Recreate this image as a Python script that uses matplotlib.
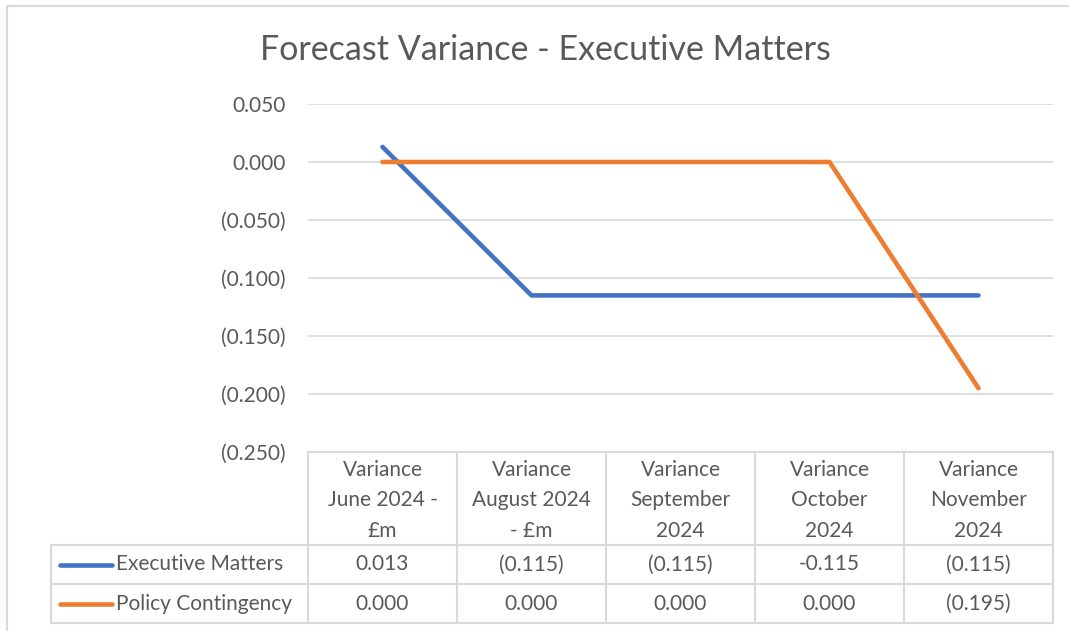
import numpy as np
import matplotlib.pyplot as plt
from matplotlib.lines import Line2D

# ================ Data ================
categories = ["Variance\nJune 2024 -\n£m", "Variance\nAugust 2024\n- £m",
              "Variance\nSeptember\n2024", "Variance\nOctober\n2024",
              "Variance\nNovember\n2024"]
series_names = ["Executive Matters", "Policy Contingency"]
executive = [0.013, -0.115, -0.115, -0.115, -0.115]
policy = [0.000, 0.000, 0.000, 0.000, -0.195]
# cell text as shown in the data table (October executive cell uses a plain format)
executive_cells = ["0.013", "(0.115)", "(0.115)", "-0.115", "(0.115)"]
policy_cells = ["0.000", "0.000", "0.000", "0.000", "(0.195)"]
y_ticks = [0.05, 0.0, -0.05, -0.10, -0.15, -0.20, -0.25]
y_tick_labels = ["0.050", "0.000", "(0.050)", "(0.100)", "(0.150)", "(0.200)", "(0.250)"]

# ================ Style ================
W, H = 1069, 631
BLUE = "#4472C4"
ORANGE = "#ED7D31"
GRID = "#D9D9D9"
TEXT = "#595959"
FONT = "Lato"
FS = 15

plt.rcParams["font.family"] = [FONT, "DejaVu Sans"]


def fx(px):
    return px / W


def fy(py):
    return 1 - py / H


fig = plt.figure(figsize=(W / 100, H / 100), dpi=100)

# plot area in pixels
left, right, top, bottom = 308, 1053, 104, 452
ax = fig.add_axes([fx(left), fy(bottom), fx(right - left), (bottom - top) / H])

x = np.arange(len(categories))
ax.plot(x, executive, color=BLUE, lw=3.3, solid_capstyle="round", zorder=3)
ax.plot(x, policy, color=ORANGE, lw=3.3, solid_capstyle="round", zorder=3)

ax.set_xlim(-0.5, len(categories) - 0.5)
ax.set_ylim(-0.25, 0.05)
ax.set_yticks(y_ticks)
ax.set_yticklabels(y_tick_labels)
ax.set_xticks([])
ax.tick_params(axis="y", length=0, pad=16, labelsize=FS, labelcolor=TEXT)
for s in ax.spines.values():
    s.set_visible(False)
for yv in y_ticks[:-1]:
    ax.axhline(yv, color=GRID, lw=1.2, zorder=1)

fig.text(fx(545), fy(50), "Forecast Variance - Executive Matters", ha="center",
         va="center", fontsize=24.5, color=TEXT)

# ================ Data table ================
trans = ax.get_xaxis_transform()  # x in data, y in axes
bt = fig.transFigure
row_y = [452, 545, 584, 623]
leg_left = 51
bounds = np.arange(len(categories) + 1) - 0.5

# horizontal lines
lw_t = 1.5
ax.plot([bounds[0], bounds[-1]], [0, 0], color=GRID, lw=lw_t, transform=trans,
        clip_on=False)
for ry in row_y[1:]:
    fig.add_artist(Line2D([fx(leg_left), fx(right)], [fy(ry), fy(ry)],
                          color=GRID, lw=lw_t, transform=bt))
# vertical lines
for b in bounds:
    xp = ax.transData.transform((b, 0))[0] / W
    fig.add_artist(Line2D([xp, xp], [fy(row_y[0]), fy(row_y[-1])],
                          color=GRID, lw=lw_t, transform=bt))
fig.add_artist(Line2D([fx(leg_left), fx(leg_left)], [fy(row_y[1]), fy(row_y[-1])],
                      color=GRID, lw=lw_t, transform=bt))

for i, cat in enumerate(categories):
    xp = ax.transData.transform((x[i], 0))[0] / W
    fig.text(xp, fy((row_y[0] + row_y[1]) / 2 + 2), cat, ha="center", va="center",
             fontsize=FS, color=TEXT, linespacing=1.65)
    fig.text(xp, fy((row_y[1] + row_y[2]) / 2), executive_cells[i], ha="center",
             va="center", fontsize=FS, color=TEXT)
    fig.text(xp, fy((row_y[2] + row_y[3]) / 2), policy_cells[i], ha="center",
             va="center", fontsize=FS, color=TEXT)

for j, (name, col) in enumerate(zip(series_names, [BLUE, ORANGE])):
    yc = fy((row_y[j + 1] + row_y[j + 2]) / 2)
    fig.add_artist(Line2D([fx(60), fx(112)], [yc, yc], color=col, lw=3.3,
                          solid_capstyle="round", transform=bt))
    fig.text(fx(116), yc, name, ha="left", va="center", fontsize=FS, color=TEXT)

# chart border (top and left edges visible)
fig.add_artist(Line2D([fx(7), fx(7), fx(W + 5)], [fy(H + 5), fy(6), fy(6)],
                      color=GRID, lw=1.5, transform=bt))

fig.savefig("out.png", dpi=100)
